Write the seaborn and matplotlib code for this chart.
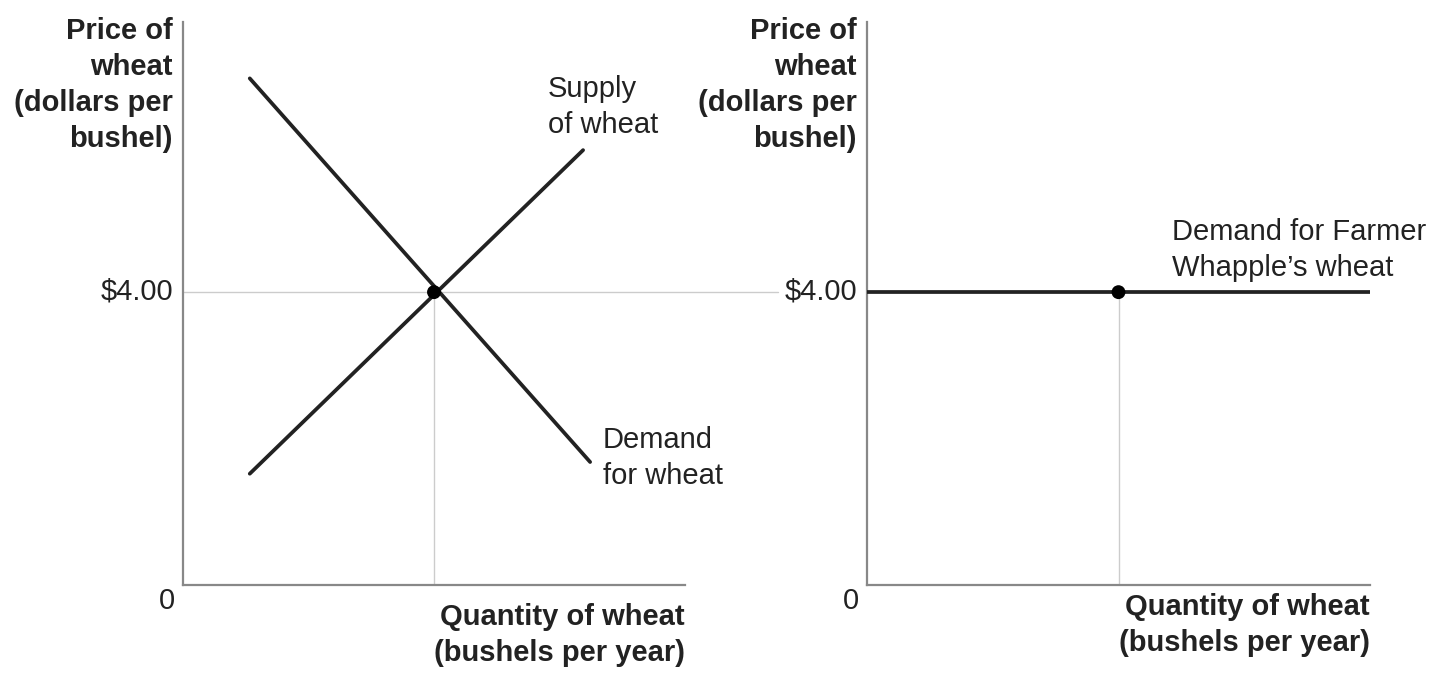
import matplotlib
matplotlib.use("Agg")
import matplotlib.pyplot as plt
import seaborn as sns
import pandas as pd

# ---- data ----
demand_q = [1.33, 8.11]
demand_p = [6.92, 1.68]
supply_q = [1.33, 7.97]
supply_p = [1.52, 5.94]
eq_q = [5.0]
eq_p = [4.0]
farm_q = [0.0, 10.0]
farm_p = [4.0, 4.0]
farm_pt_q = [5.0]
farm_pt_p = [4.0]
price_label = "$4.00"
ylabel = "Price of\nwheat\n(dollars per\nbushel)"
xlabel = "Quantity of wheat\n(bushels per year)"

sns.set_theme(style="white")
plt.rcParams['font.family'] = ['Liberation Sans', 'DejaVu Sans']

W, H = 1440, 696
fig = plt.figure(figsize=(14.4, 6.96), dpi=100)
ax1 = fig.add_axes([183/W, 1-585/H, (685-183)/W, (585-22)/H])
ax2 = fig.add_axes([867/W, 1-585/H, (1370-867)/W, (585-22)/H])

XMAX, YMAX = 10.0, 7.69
LINE = "#222222"
GRID = "#cccccc"
for ax in (ax1, ax2):
    ax.set_xlim(0, XMAX)
    ax.set_ylim(0, YMAX)
    ax.set_xticks([]); ax.set_yticks([])
    ax.set_xlabel(""); ax.set_ylabel("")
    for s in ("top", "right"):
        ax.spines[s].set_visible(False)
    for s in ("left", "bottom"):
        ax.spines[s].set_color("#888888")
        ax.spines[s].set_linewidth(1.6)
    ax.patch.set_alpha(0)

# reference lines (left)
ax1.plot([0, 11.85], [eq_p[0], eq_p[0]], color=GRID, lw=1.0, clip_on=False, zorder=1)
ax1.plot([eq_q[0], eq_q[0]], [0, eq_p[0]], color=GRID, lw=1.0, zorder=1)

sns.lineplot(x=demand_q, y=demand_p, ax=ax1, color=LINE, lw=2.7, zorder=3)
sns.lineplot(x=supply_q, y=supply_p, ax=ax1, color=LINE, lw=2.7, zorder=3)
sns.scatterplot(x=eq_q, y=eq_p, ax=ax1, color="black", s=100, zorder=4, edgecolor="none")

# right panel
ax2.plot([farm_pt_q[0], farm_pt_q[0]], [0, farm_pt_p[0]], color=GRID, lw=1.0, zorder=1)
sns.lineplot(x=farm_q, y=farm_p, ax=ax2, color=LINE, lw=2.7, zorder=3)
sns.scatterplot(x=farm_pt_q, y=farm_pt_p, ax=ax2, color="black", s=100, zorder=4, edgecolor="none")

FS = 21
def t(x, y, s, **kw):
    fig.text(x/W, 1-y/H, s, fontsize=FS, color="#222222", linespacing=1.36, **kw)

for xr in (173, 857):
    t(xr, 85, ylabel, ha="right", va="center", fontweight="bold")
    t(xr, 292, price_label, ha="right", va="center")
t(167, 601, "0", ha="center", va="center")
t(851, 601, "0", ha="center", va="center")
t(685, 635, xlabel, ha="right", va="center", fontweight="bold")
t(1370, 625, xlabel, ha="right", va="center", fontweight="bold")
t(548, 107, "Supply\nof wheat", ha="left", va="center")
t(603, 458, "Demand\nfor wheat", ha="left", va="center")
t(1172, 250, "Demand for Farmer\nWhapple\u2019s wheat", ha="left", va="center")

fig.savefig("out.png", dpi=100)
